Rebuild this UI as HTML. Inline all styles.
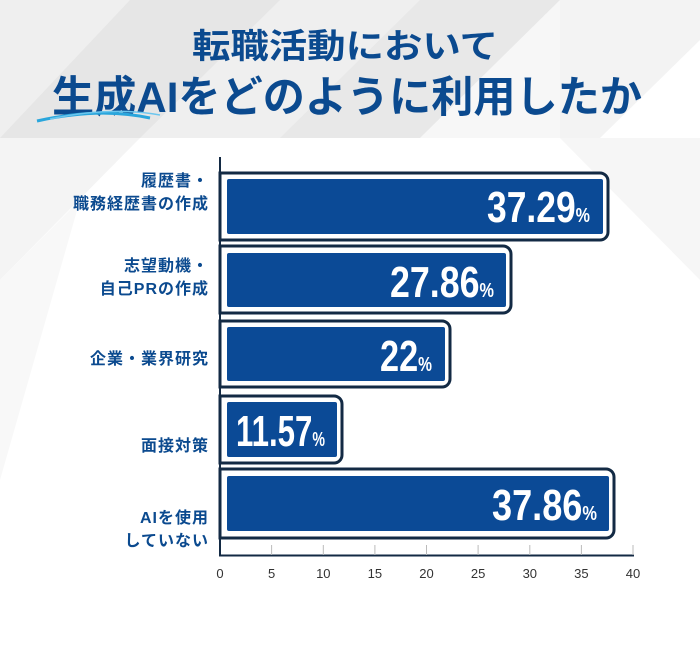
<!DOCTYPE html>
<html><head><meta charset="utf-8"><style>
html,body{margin:0;padding:0;background:#fff;}
svg{display:block}
.t{font-family:"Liberation Sans","Noto Sans CJK JP",sans-serif;font-weight:bold;fill:#0b4a8f}
.l{font-family:"Liberation Sans","Noto Sans CJK JP",sans-serif;font-weight:bold;fill:#0b4a8f;font-size:16px;text-anchor:end;letter-spacing:1px}
.v{font-family:"Liberation Sans",sans-serif;font-weight:bold;fill:#fff;font-size:44px}
.p{font-size:20px}
.k{font-family:"Liberation Sans",sans-serif;font-size:13px;fill:#333;text-anchor:middle}
</style></head><body>
<svg width="700" height="650" viewBox="0 0 700 650">
<rect width="700" height="650" fill="#fff"/>
<rect width="700" height="138" fill="#efefef"/>
<polygon points="0,138 130,0 280,0 140,138" fill="#e6e6e6"/>
<polygon points="280,138 420,0 560,0 420,138" fill="#e8e8e8"/>
<polygon points="420,138 560,0 560,138" fill="#f7f7f7"/>
<polygon points="560,0 700,0 700,138 560,138" fill="#f3f3f3"/>
<polygon points="600,138 700,40 700,138" fill="#fff"/>
<polygon points="0,138 140,138 0,280" fill="#f4f4f4"/>
<polygon points="0,280 80,200 0,480" fill="#f8f8f8"/>
<polygon points="420,138 560,138 700,280 700,138" fill="#f6f6f6"/>
<text class="t" x="192" y="58" font-size="34" textLength="306" lengthAdjust="spacingAndGlyphs">転職活動において</text>
<text class="t" x="52" y="112" font-size="43" textLength="590" lengthAdjust="spacingAndGlyphs">生成AIをどのように利用したか</text>
<path d="M37,121 Q100,107 150,118" stroke="#2aa6dc" stroke-width="3" fill="none"/>
<path d="M50,119 Q110,106 160,115" stroke="#6cc6ee" stroke-width="1.5" fill="none"/>

<text class="l" x="209" y="186">履歴書・</text>
<text class="l" x="209" y="209">職務経歴書の作成</text>
<text class="l" x="209" y="271">志望動機・</text>
<text class="l" x="209" y="294">自己PRの作成</text>
<text class="l" x="209" y="364">企業・業界研究</text>
<text class="l" x="209" y="451">面接対策</text>
<text class="l" x="209" y="523">AIを使用</text>
<text class="l" x="209" y="546">していない</text>

<g stroke="#132a44" stroke-width="3" fill="#fff">
<path d="M220,173 H600 a8,8 0 0 1 8,8 V232 a8,8 0 0 1 -8,8 H220 Z"/>
<path d="M220,246 H503 a8,8 0 0 1 8,8 V305 a8,8 0 0 1 -8,8 H220 Z"/>
<path d="M220,321 H442 a8,8 0 0 1 8,8 V379 a8,8 0 0 1 -8,8 H220 Z"/>
<path d="M220,396 H334 a8,8 0 0 1 8,8 V455 a8,8 0 0 1 -8,8 H220 Z"/>
<path d="M220,469 H606 a8,8 0 0 1 8,8 V530 a8,8 0 0 1 -8,8 H220 Z"/>
</g>
<g fill="#0b4a96">
<rect x="227" y="179" width="376" height="55" rx="2"/>
<rect x="227" y="253" width="279" height="54" rx="2"/>
<rect x="227" y="327" width="218" height="54" rx="2"/>
<rect x="227" y="402" width="110" height="55" rx="2"/>
<rect x="227" y="476" width="382" height="55" rx="2"/>
</g>
<text class="v" x="487" y="222" textLength="103" lengthAdjust="spacingAndGlyphs">37.29<tspan class="p">%</tspan></text>
<text class="v" x="390" y="297" textLength="104" lengthAdjust="spacingAndGlyphs">27.86<tspan class="p">%</tspan></text>
<text class="v" x="380" y="371" textLength="52" lengthAdjust="spacingAndGlyphs">22<tspan class="p">%</tspan></text>
<text class="v" x="236" y="446" textLength="89" lengthAdjust="spacingAndGlyphs">11.57<tspan class="p">%</tspan></text>
<text class="v" x="492" y="520" textLength="105" lengthAdjust="spacingAndGlyphs">37.86<tspan class="p">%</tspan></text>

<line x1="220" y1="157" x2="220" y2="556" stroke="#132a44" stroke-width="2"/>
<line x1="219" y1="555.5" x2="634" y2="555.5" stroke="#132a44" stroke-width="2"/>
<g stroke="#bbb" stroke-width="1">
<line x1="271.6" y1="545" x2="271.6" y2="555"/><line x1="323.3" y1="545" x2="323.3" y2="555"/>
<line x1="374.9" y1="545" x2="374.9" y2="555"/><line x1="426.5" y1="545" x2="426.5" y2="555"/>
<line x1="478.1" y1="545" x2="478.1" y2="555"/><line x1="529.8" y1="545" x2="529.8" y2="555"/>
<line x1="581.4" y1="545" x2="581.4" y2="555"/><line x1="633" y1="545" x2="633" y2="555"/>
</g>
<text class="k" x="220" y="578">0</text><text class="k" x="271.6" y="578">5</text>
<text class="k" x="323.3" y="578">10</text><text class="k" x="374.9" y="578">15</text>
<text class="k" x="426.5" y="578">20</text><text class="k" x="478.1" y="578">25</text>
<text class="k" x="529.8" y="578">30</text><text class="k" x="581.4" y="578">35</text>
<text class="k" x="633" y="578">40</text>
</svg>
</body></html>
